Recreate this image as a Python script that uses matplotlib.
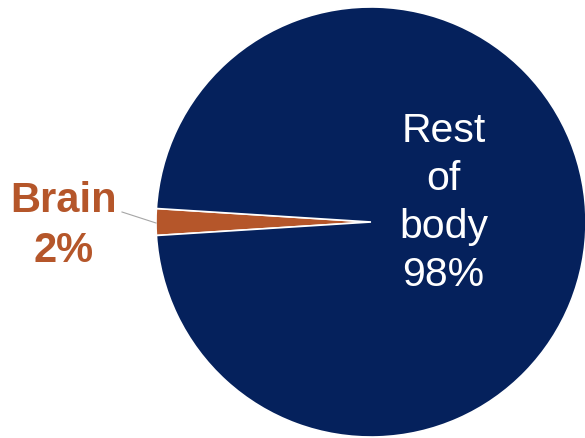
import matplotlib.pyplot as plt

plt.rcParams['font.family'] = ['Liberation Sans', 'DejaVu Sans']

labels = ["Brain", "Rest\nof\nbody"]
shares = [2, 98]
colors = ["#B5562A", "#05215C"]

fig = plt.figure(figsize=(5.85, 4.39), dpi=100)
ax = fig.add_axes([0, 0, 1, 1])

# brain slice centred on the left side
start = 180 - shares[0] / sum(shares) * 360 / 2
ax.pie(shares, colors=colors, startangle=start, center=(371, 223), radius=215,
       wedgeprops=dict(edgecolor="white", linewidth=1.2))
ax.set_xlim(0, 585)
ax.set_ylim(439, 0)
ax.set_aspect("equal")
ax.axis("off")

ax.text(443.5, 203, f"{labels[1]}\n{shares[1]}%", color="white", fontsize=29.5,
        ha="center", va="center", linespacing=1.34)
ax.text(64, 226, f"{labels[0]}\n{shares[0]}%", color=colors[0], fontsize=30,
        fontweight="bold", ha="center", va="center", linespacing=1.31)
ax.plot([122, 156], [213, 224], color="#A6A6A6", lw=0.8)

fig.savefig("out.png", dpi=100)
